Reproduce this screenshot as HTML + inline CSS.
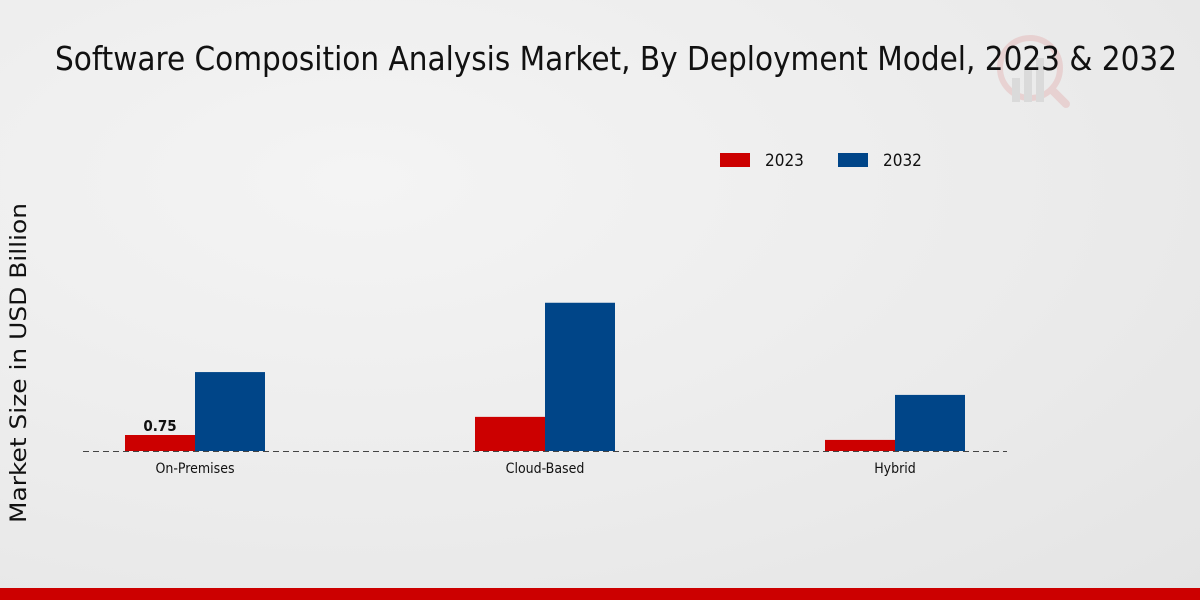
<!DOCTYPE html>
<html><head><meta charset="utf-8"><style>
html,body{margin:0;padding:0;width:1200px;height:600px;overflow:hidden}
body{background:radial-gradient(ellipse at 30% 30%,#f4f4f4 0%,#ebebeb 60%,#e4e4e4 100%)}
svg{display:block;font-family:"DejaVu Sans Condensed","DejaVu Sans","Liberation Sans",sans-serif}
</style></head><body>
<svg id="chart" width="1200" height="600">
<g opacity="0.25">
<circle cx="1030" cy="68" r="30" fill="none" stroke="#d88" stroke-width="6"/>
<line x1="1052" y1="90" x2="1066" y2="104" stroke="#d88" stroke-width="8" stroke-linecap="round"/>
<rect x="1012" y="78" width="8" height="24" fill="#aaa"/><rect x="1024" y="68" width="8" height="34" fill="#aaa"/><rect x="1036" y="58" width="8" height="44" fill="#aaa"/>
</g>
<text x="616" y="70" text-anchor="middle" font-size="33" textLength="1122" lengthAdjust="spacingAndGlyphs" fill="#111">Software Composition Analysis Market, By Deployment Model, 2023 &amp; 2032</text>
<g>
<g><rect x="720" y="153" width="30" height="14" fill="#cc0000"/><text x="765" y="166" font-size="17" fill="#111">2023</text></g>
<g><rect x="838" y="153" width="30" height="14" fill="#004588"/><text x="883" y="166" font-size="17" fill="#111">2032</text></g>
</g>
<text transform="translate(26,363) rotate(-90)" text-anchor="middle" font-size="22" font-family="DejaVu Sans, sans-serif" textLength="320" lengthAdjust="spacingAndGlyphs" fill="#111">Market Size in USD Billion</text>
<g id="bars"></g>
<line x1="83" y1="451.5" x2="1007" y2="451.5" stroke="#444" stroke-dasharray="6,4"/>
<g id="labels"></g>
<rect x="0" y="588" width="1200" height="12" fill="#cc0000"/>
</svg>
<script>
const categories=["On-Premises","Cloud-Based","Hybrid"];
const values2023=[0.75,1.6,0.52];
const values2032=[3.7,6.95,2.63];
const shownLabels=["0.75","",""];
const NS="http://www.w3.org/2000/svg";
const baseY=451, pxPerUnit=21.33, firstCenter=195, spacing=350, barW=70;
const y=v=>baseY-v*pxPerUnit;
const xc=i=>firstCenter+i*spacing;
const bars=document.getElementById('bars'), labels=document.getElementById('labels');
function mk(t,a){const e=document.createElementNS(NS,t);for(const k in a)e.setAttribute(k,a[k]);return e;}
categories.forEach((c,i)=>{
  const r1=mk('rect',{x:xc(i)-barW,y:y(values2023[i]),width:barW,height:baseY-y(values2023[i]),fill:'#cc0000'});
  
  
  bars.appendChild(r1);
  const r2=mk('rect',{x:xc(i),y:y(values2032[i]),width:barW,height:baseY-y(values2032[i]),fill:'#004588'});
  
  
  bars.appendChild(r2);
  const t=mk('text',{x:xc(i),y:473,'text-anchor':'middle','font-size':'14',fill:'#111'});
  t.textContent=c;
  
  
  labels.appendChild(t);
  if(shownLabels[i]){
    const v=mk('text',{x:xc(i)-barW/2,y:y(values2023[i])-4,'text-anchor':'middle','font-size':'15','font-weight':'bold',fill:'#111'});
    v.textContent=shownLabels[i];
    
    
    labels.appendChild(v);
  }
});
</script>
</body></html>
